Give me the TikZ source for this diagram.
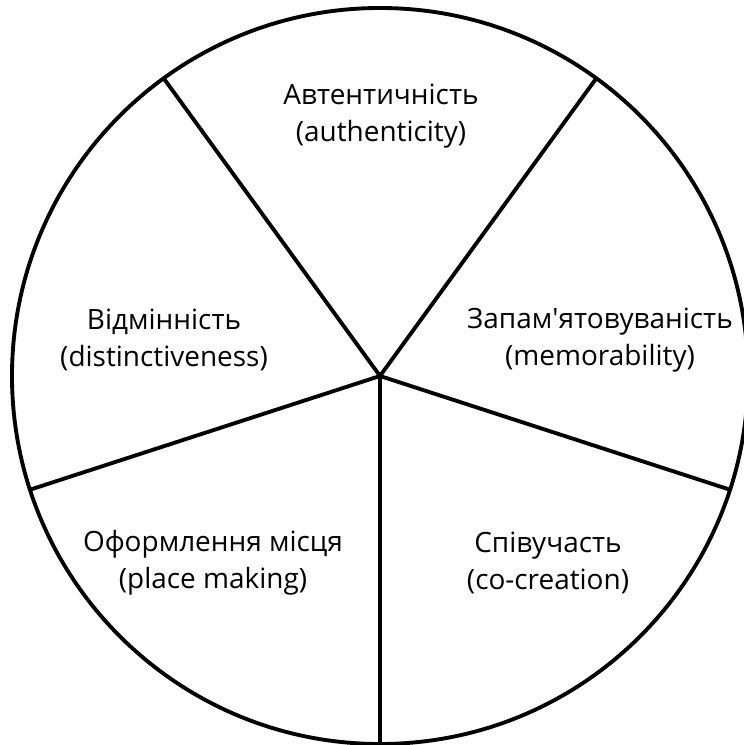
\documentclass[tikz,border=0pt]{standalone}
\usepackage{fontspec}
\setmainfont{Open Sans}
\usepackage{tikz}

\tikzset{
    wheel/.style={line width=2.2pt, black},
    sector/.style={align=center, font=\fontsize{15.9}{21}\selectfont, inner sep=0pt}
}

\begin{document}
\begin{tikzpicture}
    \useasboundingbox (-7.6,-7.38) rectangle (7.26,7.52);

    % wheel
    \coordinate (c) at (0,0);
    \draw[wheel] (c) circle (7.36);

    \foreach \a/\name in {270/bottom,342/right,54/topright,126/topleft,198/left}
        \coordinate (\name) at (\a:7.36);

    % spokes
    \foreach \name in {bottom,right,topright,topleft,left}
        \draw[wheel, line cap=round] (c) -- (\name);

    % labels
    \node[sector] (auth) at (0.02,5.2) {Автентичність\\(authenticity)};
    \node[sector] (dist) at (-4.32,0.72) {Відмінність\\(distinctiveness)};
    \node[sector] (memo) at (4.4,0.72) {Запам\textquotesingle ятовуваність\\(memorability)};
    \node[sector] (place) at (-3.34,-3.74) {Оформлення місця\\(place making)};
    \node[sector] (cocr) at (3.36,-3.74) {Співучасть\\(co-creation)};
\end{tikzpicture}
\end{document}
